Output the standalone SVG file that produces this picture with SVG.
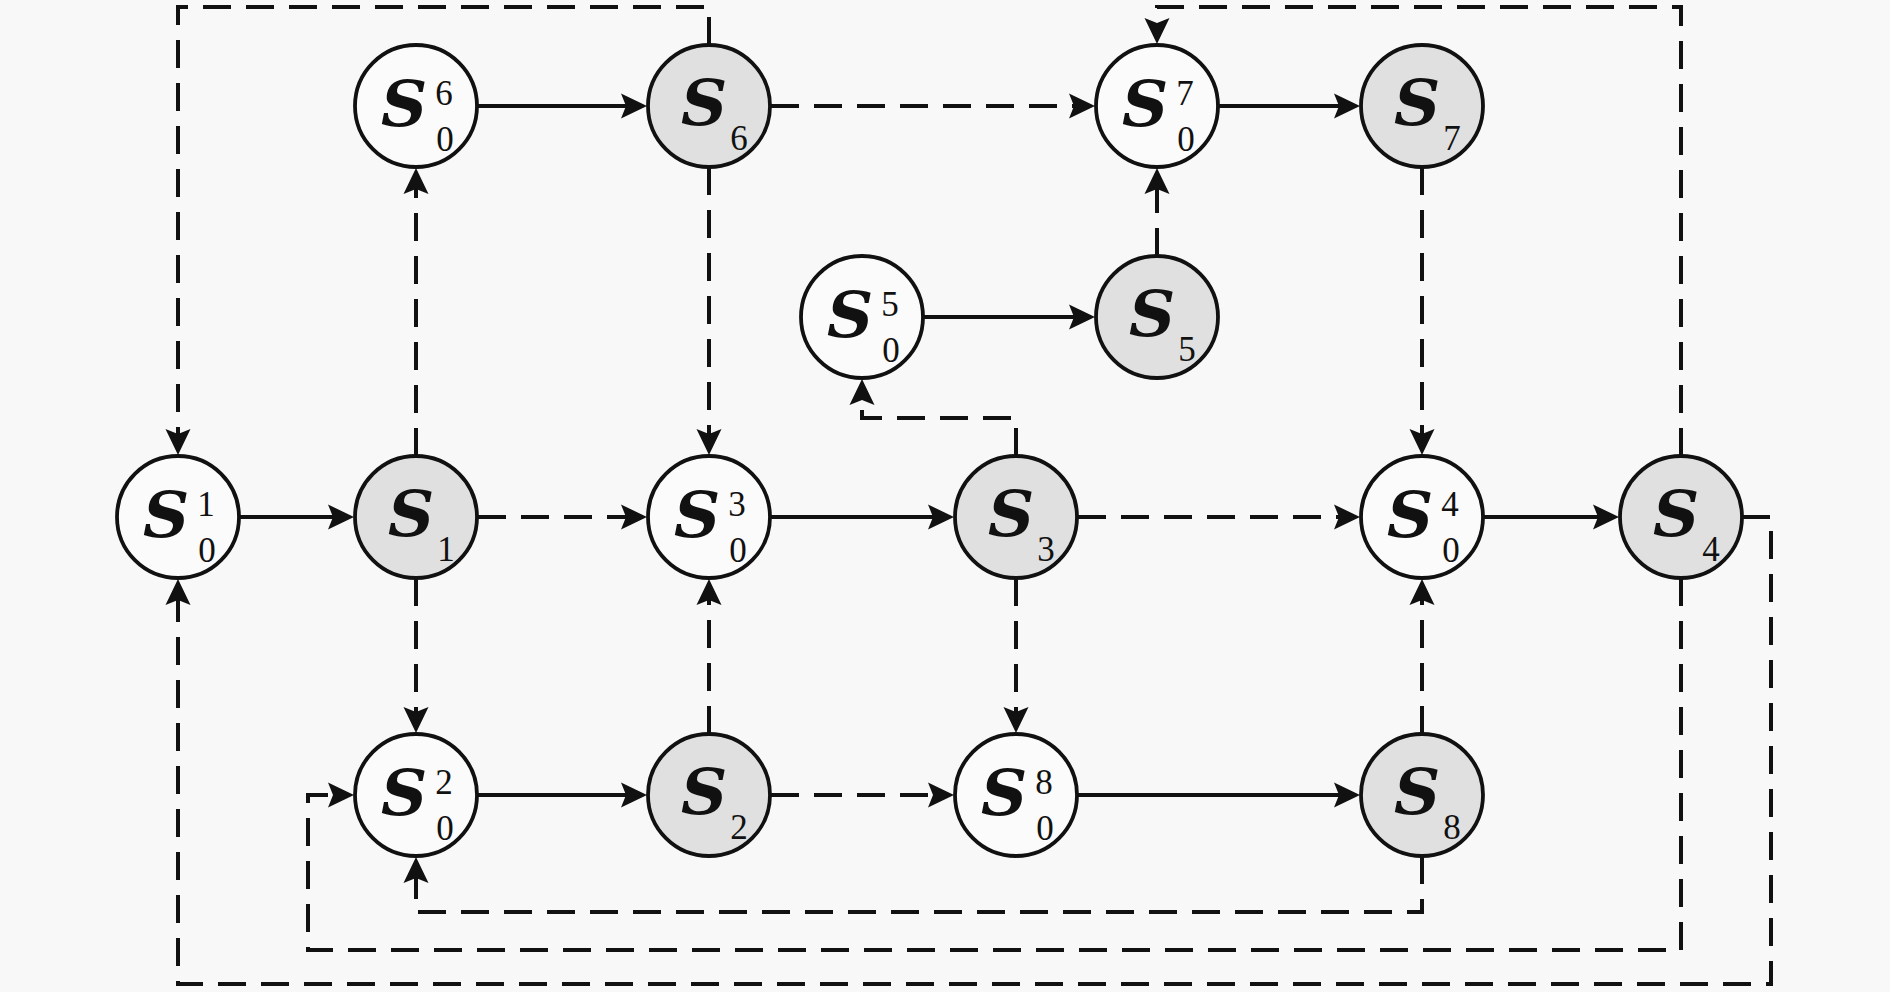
<svg xmlns="http://www.w3.org/2000/svg" width="1890" height="992" viewBox="0 0 1890 992">
<style>
.bg{fill:#f8f8f8}
.w{fill:#fbfbfb;stroke:#111;stroke-width:3.8}
.g{fill:#e0e0e0;stroke:#111;stroke-width:3.8}
.S{font-family:"DejaVu Serif","Liberation Serif",serif;font-weight:bold;font-style:italic;font-size:64px;text-anchor:middle;fill:#111}
.d{font-family:"Liberation Serif","DejaVu Serif",serif;font-size:35px;text-anchor:middle;fill:#111}
.c{fill:none;stroke:#111;stroke-width:4;stroke-linecap:butt;stroke-linejoin:miter;marker-end:url(#ah)}
.dash{stroke-dasharray:28 15}
</style>
<defs>
<marker id="ah" markerUnits="userSpaceOnUse" markerWidth="30" markerHeight="30" refX="21" refY="0" orient="auto" overflow="visible">
<path d="M0,-12.5 L26,0 L0,12.5 L5,0 Z" fill="#111"/>
</marker>
</defs>
<rect class="bg" x="0" y="0" width="1890" height="992"/>
<g id="connectors">
<path class="c" d="M240,517 H349"/>
<path class="c dash" d="M478,517 H642"/>
<path class="c" d="M771,517 H949"/>
<path class="c dash" d="M1078,517 H1355"/>
<path class="c" d="M1484,517 H1614"/>
<path class="c" d="M478,106 H642"/>
<path class="c dash" d="M771,106 H1090"/>
<path class="c" d="M1219,106 H1355"/>
<path class="c" d="M924,317 H1090"/>
<path class="c" d="M478,795 H642"/>
<path class="c dash" d="M771,795 H949"/>
<path class="c" d="M1078,795 H1355"/>
<path class="c dash" d="M416,456 V173"/>
<path class="c dash" d="M416,578 V728"/>
<path class="c dash" d="M709,734 V584"/>
<path class="c dash" d="M709,167 V450"/>
<path class="c dash" d="M1016,578 V728"/>
<path class="c dash" d="M1422,734 V584"/>
<path class="c dash" d="M1422,167 V450"/>
<path class="c dash" d="M1157,256 V173"/>
<path class="c dash" d="M709,45 V7 H178 V450"/>
<path class="c dash" d="M1681,456 V7 H1157 V39"/>
<path class="c dash" d="M1016,456 V418 H862 V384"/>
<path class="c dash" d="M1422,856 V912 H416 V862"/>
<path class="c dash" d="M1681,578 V950 H308 V795 H349"/>
<path class="c dash" d="M1742,517 H1771 V984 H178 V584"/>
</g>
<g id="S0_1"><circle class="w" cx="178" cy="517" r="61"/><text class="S" x="166" y="537">S</text><text class="d" x="206" y="516">1</text><text class="d" x="207" y="562">0</text></g>
<g id="S_1"><circle class="g" cx="416" cy="517" r="61"/><text class="S" x="411" y="536">S</text><text class="d" x="446" y="561">1</text></g>
<g id="S0_3"><circle class="w" cx="709" cy="517" r="61"/><text class="S" x="697" y="537">S</text><text class="d" x="737" y="516">3</text><text class="d" x="738" y="562">0</text></g>
<g id="S_3"><circle class="g" cx="1016" cy="517" r="61"/><text class="S" x="1011" y="536">S</text><text class="d" x="1046" y="561">3</text></g>
<g id="S0_4"><circle class="w" cx="1422" cy="517" r="61"/><text class="S" x="1410" y="537">S</text><text class="d" x="1450" y="516">4</text><text class="d" x="1451" y="562">0</text></g>
<g id="S_4"><circle class="g" cx="1681" cy="517" r="61"/><text class="S" x="1676" y="536">S</text><text class="d" x="1711" y="561">4</text></g>
<g id="S0_6"><circle class="w" cx="416" cy="106" r="61"/><text class="S" x="404" y="126">S</text><text class="d" x="444" y="105">6</text><text class="d" x="445" y="151">0</text></g>
<g id="S_6"><circle class="g" cx="709" cy="106" r="61"/><text class="S" x="704" y="125">S</text><text class="d" x="739" y="150">6</text></g>
<g id="S0_7"><circle class="w" cx="1157" cy="106" r="61"/><text class="S" x="1145" y="126">S</text><text class="d" x="1185" y="105">7</text><text class="d" x="1186" y="151">0</text></g>
<g id="S_7"><circle class="g" cx="1422" cy="106" r="61"/><text class="S" x="1417" y="125">S</text><text class="d" x="1452" y="150">7</text></g>
<g id="S0_5"><circle class="w" cx="862" cy="317" r="61"/><text class="S" x="850" y="337">S</text><text class="d" x="890" y="316">5</text><text class="d" x="891" y="362">0</text></g>
<g id="S_5"><circle class="g" cx="1157" cy="317" r="61"/><text class="S" x="1152" y="336">S</text><text class="d" x="1187" y="361">5</text></g>
<g id="S0_2"><circle class="w" cx="416" cy="795" r="61"/><text class="S" x="404" y="815">S</text><text class="d" x="444" y="794">2</text><text class="d" x="445" y="840">0</text></g>
<g id="S_2"><circle class="g" cx="709" cy="795" r="61"/><text class="S" x="704" y="814">S</text><text class="d" x="739" y="839">2</text></g>
<g id="S0_8"><circle class="w" cx="1016" cy="795" r="61"/><text class="S" x="1004" y="815">S</text><text class="d" x="1044" y="794">8</text><text class="d" x="1045" y="840">0</text></g>
<g id="S_8"><circle class="g" cx="1422" cy="795" r="61"/><text class="S" x="1417" y="814">S</text><text class="d" x="1452" y="839">8</text></g>
</svg>
